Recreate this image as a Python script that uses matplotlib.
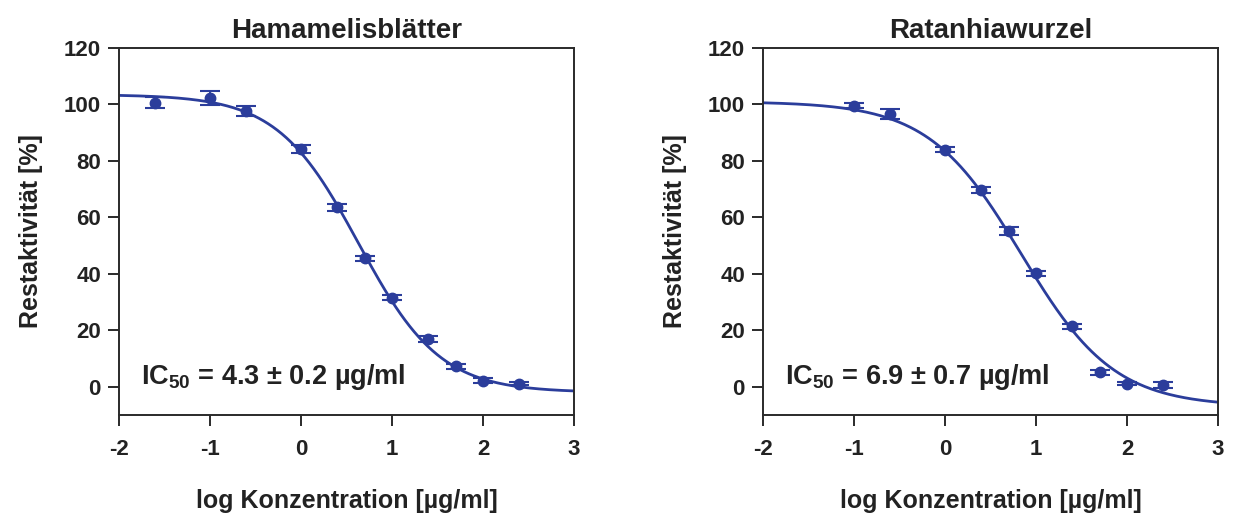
import matplotlib.pyplot as plt
import numpy as np

plt.rcParams["font.family"] = ["Liberation Sans", "DejaVu Sans"]
plt.rcParams["font.weight"] = "bold"
plt.rcParams["axes.unicode_minus"] = False
plt.rcParams["mathtext.fontset"] = "custom"
plt.rcParams["mathtext.rm"] = "Liberation Sans:bold"
plt.rcParams["mathtext.bf"] = "Liberation Sans:bold"

BLUE = "#2B3D9B"
SPINE = "#2a2a2a"
TEXT = "#222222"

# Hamamelisblätter: log concentration, residual activity, error
hama_x = [-1.6, -1.0, -0.6, 0.0, 0.4, 0.7, 1.0, 1.4, 1.7, 2.0, 2.4]
hama_y = [100.6, 102.2, 97.8, 84.2, 63.6, 45.5, 31.6, 16.9, 7.2, 2.2, 1.1]
hama_err = [2.0, 2.5, 1.8, 1.5, 1.2, 1.0, 1.0, 1.0, 0.8, 0.8, 0.6]
# 4PL fit parameters: top, bottom, log IC50, hill slope
hama_fit = (103.5, -2.0, 0.633, 0.97)

# Ratanhiawurzel
rat_x = [-1.0, -0.6, 0.0, 0.4, 0.7, 1.0, 1.4, 1.7, 2.0, 2.4]
rat_y = [99.6, 96.7, 84.0, 69.8, 55.1, 40.2, 21.4, 5.1, 1.1, 0.7]
rat_err = [1.0, 1.7, 1.0, 1.0, 1.5, 0.8, 1.0, 1.0, 0.6, 1.0]
rat_fit = (101.0, -7.0, 0.839, 0.85)

titles = ["Hamamelisblätter", "Ratanhiawurzel"]
ic50_labels = [r"IC$_{\mathrm{50}}$ = 4.3 ± 0.2 µg/ml", r"IC$_{\mathrm{50}}$ = 6.9 ± 0.7 µg/ml"]


def four_pl(x, top, bottom, log_ic50, hill):
    return bottom + (top - bottom) / (1 + 10 ** ((x - log_ic50) * hill))


fig = plt.figure(figsize=(12.35, 5.16), dpi=100)
ax_l = fig.add_axes([0.0964, 0.1957, 0.3684, 0.7113])
ax_r = fig.add_axes([0.6178, 0.1957, 0.3684, 0.7113])

panels = [
    (ax_l, hama_x, hama_y, hama_err, hama_fit),
    (ax_r, rat_x, rat_y, rat_err, rat_fit),
]

xs = np.linspace(-2, 3, 300)
for i, (ax, x, y, err, fit) in enumerate(panels):
    ax.plot(xs, four_pl(xs, *fit), color=BLUE, lw=2.0, zorder=2)
    ax.errorbar(x, y, yerr=err, fmt="o", color=BLUE, ms=7.5, capsize=7,
                elinewidth=1.4, capthick=1.5, zorder=3)
    ax.set_xlim(-2, 3)
    ax.set_ylim(-10, 120)
    ax.set_xticks(range(-2, 4))
    ax.set_yticks(range(0, 121, 20))
    ax.tick_params(direction="out", length=8, width=1.4, color=SPINE,
                   labelsize=16, pad=5)
    ax.tick_params(axis="x", pad=9)
    for lab in ax.get_xticklabels() + ax.get_yticklabels():
        lab.set_fontweight("bold")
        lab.set_color(TEXT)
    for s in ax.spines.values():
        s.set_color(SPINE)
        s.set_linewidth(1.4)
    ax.set_title(titles[i], fontsize=20, fontweight="bold", color=TEXT, pad=7)
    ax.set_xlabel("log Konzentration [µg/ml]", fontsize=18, fontweight="bold",
                  color=TEXT, labelpad=21)
    ax.set_ylabel("Restaktivität [%]", fontsize=18, fontweight="bold",
                  color=TEXT, labelpad=15)
    ax.text(-1.76, 3.5, ic50_labels[i], fontsize=19.5, fontweight="bold",
            color=TEXT, va="center", ha="left")

fig.savefig("out.png", dpi=100)
